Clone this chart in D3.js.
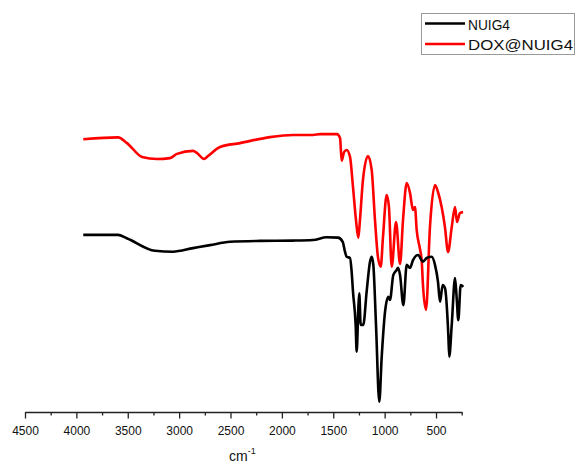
<!DOCTYPE html>
<html>
<head>
<meta charset="utf-8">
<script src="https://cdn.jsdelivr.net/npm/d3@7"></script>
<style>
  body { margin: 0; background: #fff; }
  svg { display: block; font-family: "Liberation Sans", Arial, sans-serif; }
</style>
</head>
<body>
<svg id="chart" width="577" height="465"></svg>
<script>
// wavenumber (as read on the printed axis) and relative transmittance
var seriesNames = ["NUIG4", "DOX@NUIG4"];
var seriesColors = ["#000000", "#ff0000"];

var nuigWn = [3933, 3595, 3510, 3235, 3060, 2865, 2700, 2505, 2213, 1892, 1697, 1564, 1454, 1408, 1386, 1369, 1337,
  1321, 1308, 1282, 1272, 1256, 1247, 1233, 1208, 1175, 1142, 1126, 1110, 1084, 1052, 1029, 996, 964, 948,
  916, 883, 870, 850, 818, 785, 753, 724, 675, 627, 591, 542, 510, 481, 461, 435, 413, 380, 371, 347, 315,
  299, 283, 260, 234];
var nuigT = [56.7, 56.7, 55.6, 51.4, 51.1, 52.3, 53.3, 54.4, 54.7, 54.8, 55.0, 55.9, 55.8, 54.4, 51.1, 49.4, 49.0,
  44.4, 37.8, 26.7, 17.8, 32.3, 37.2, 26.7, 26.7, 37.8, 47.8, 49.4, 46.7, 26.7, 1.1, 15.7, 31.1, 36.1, 35.0,
  43.3, 45.0, 45.7, 43.3, 33.3, 46.7, 45.7, 48.3, 50.0, 47.8, 49.0, 49.4, 46.7, 41.1, 34.4, 40.0, 39.0, 23.3, 16.1, 26.7, 42.3,
  35.7, 28.3, 40.0, 39.4];

var doxWn = [3933, 3595, 3507, 3361, 3215, 3089, 3021, 2865, 2826, 2758, 2719, 2602, 2408, 2116, 1892, 1697, 1629,
  1464, 1434, 1418, 1395, 1369, 1337, 1308, 1279, 1256, 1240, 1211, 1162, 1126, 1094, 1065, 1038, 1016, 980,
  958, 931, 889, 850, 821, 785, 753, 724, 705, 688, 656, 639, 627, 597, 559, 510, 481, 445, 413, 383, 347,
  315, 296, 267, 237];
var doxT = [88.6, 89.2, 87.3, 82.7, 82.0, 82.3, 83.7, 84.7, 84.0, 82.0, 83.0, 86.0, 87.3, 89.3, 90.0, 90.0, 90.3,
  90.3, 89.0, 81.4, 84.3, 85.0, 82.7, 72.7, 61.7, 55.7, 61.7, 75.0, 83.0, 78.3, 61.7, 49.3, 46.1, 56.0, 70.0,
  66.0, 46.1, 61.0, 47.0, 61.7, 74.0, 70.7, 65.0, 66.0, 58.3, 52.0, 48.0, 40.0, 31.7, 59.3, 73.3, 71.0, 66.0, 59.3, 51.0, 59.3,
  66.0, 61.0, 64.0, 64.3];

var majorTicks = [4500, 4000, 3500, 3000, 2500, 2000, 1500, 1000, 500];
var minorTicks = [4250, 3750, 3250, 2750, 2250, 1750, 1250, 750, 250];

var svg = d3.select("#chart");

var x = d3.scaleLinear().domain([4500, 250]).range([25, 461.7]);
var y = d3.scaleLinear().domain([0, 100]).range([405, 105]);
var axisY = 412;

// bottom axis
var gMinor = svg.append("g").attr("transform", "translate(0," + axisY + ")")
  .call(d3.axisBottom(x).tickValues(minorTicks).tickSize(3.5).tickSizeOuter(0).tickFormat(""));
var gMajor = svg.append("g").attr("transform", "translate(0," + axisY + ")")
  .call(d3.axisBottom(x).tickValues(majorTicks).tickSize(6.5).tickSizeOuter(0).tickPadding(8).tickFormat(d3.format("d")));
gMinor.select(".domain").remove();
svg.selectAll(".tick line").attr("stroke", "#222").attr("stroke-width", 1.3);
gMajor.select(".domain").attr("stroke", "#222").attr("stroke-width", 1.3);
gMajor.selectAll(".tick text").attr("font-size", 12).attr("fill", "#111")
  .attr("font-family", "Liberation Sans, Arial, sans-serif");

// axis title
var title = svg.append("text").attr("x", 229).attr("y", 461)
  .attr("font-size", 14).attr("fill", "#111").text("cm");
title.append("tspan").attr("font-size", 9).attr("dy", -7).text("-1");

// spectra
var line = d3.line()
  .x(function (d) { return x(d[0]); })
  .y(function (d) { return y(d[1]); })
  .curve(d3.curveMonotoneX);

var series = [
  d3.zip(doxWn, doxT),
  d3.zip(nuigWn, nuigT)
];
var colors = [seriesColors[1], seriesColors[0]];

svg.append("g").selectAll("path").data(series).enter()
  .append("path")
  .attr("d", line)
  .attr("fill", "none")
  .attr("stroke", function (d, i) { return colors[i]; })
  .attr("stroke-width", 2.6)
  .attr("stroke-linejoin", "round");

// legend
var legend = svg.append("g");
legend.append("rect").attr("x", 421.5).attr("y", 13.5).attr("width", 153).attr("height", 41)
  .attr("fill", "#fff").attr("stroke", "#999").attr("stroke-width", 1);
var rows = legend.selectAll("g.row").data(seriesNames).enter()
  .append("g").attr("class", "row")
  .attr("transform", function (d, i) { return "translate(0," + (i === 0 ? 23.5 : 44) + ")"; });
rows.append("line").attr("x1", 425).attr("x2", 465).attr("y1", 0).attr("y2", 0)
  .attr("stroke", function (d, i) { return seriesColors[i]; }).attr("stroke-width", 2.6);
rows.append("text").attr("x", 468).attr("y", 6)
  .attr("font-size", 15).attr("fill", "#111")
  .attr("textLength", function (d, i) { return i === 0 ? 42 : 105; })
  .attr("lengthAdjust", "spacingAndGlyphs")
  .text(function (d) { return d; });
</script>
</body>
</html>
